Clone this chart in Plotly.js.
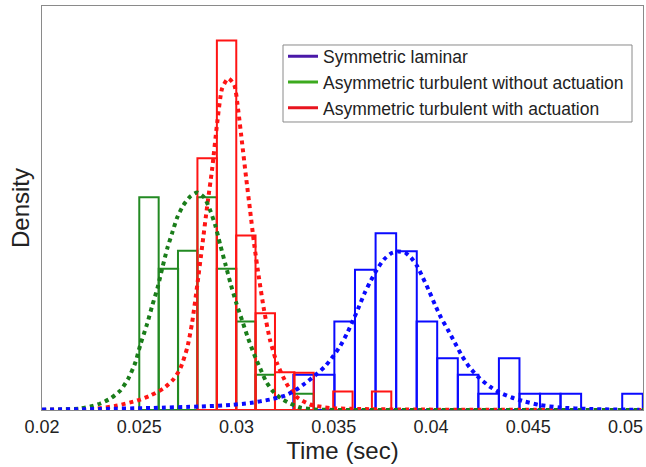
<!DOCTYPE html>
<html>
<head>
<meta charset="utf-8">
<script src="https://cdn.plot.ly/plotly-3.0.1.min.js"></script>
<style>html,body{margin:0;padding:0;background:#fff;}#chart{width:646px;height:467px;}</style>
</head>
<body>
<div id="chart"></div>
<script>
// Histogram bins (bin centres in sec, density heights)
const laminarBinX = [0.03345, 0.03451, 0.03556, 0.03662, 0.03768, 0.03874, 0.03979, 0.04085, 0.04191, 0.04296, 0.04402, 0.04508, 0.04613, 0.04719, 0.05036];
const laminarBinY = [35.2, 35.2, 88.5, 140.2, 176.8, 158.8, 88.5, 51.8, 35.2, 16.2, 51.8, 16.2, 16.2, 16.2, 16.2];
const noActBinX = [0.02550, 0.02650, 0.02749, 0.02849, 0.02949, 0.03048, 0.03148, 0.03347];
const noActBinY = [212.8, 141.2, 159.2, 212.8, 141.2, 88.5, 35.2, 16.2];
const actBinX = [0.02849, 0.02949, 0.03048, 0.03148, 0.03248, 0.03347, 0.03547, 0.03746];
const actBinY = [251.8, 369.5, 174.5, 96.8, 37.8, 37.2, 18.5, 18.5];
const laminarBinWidth = 0.001057;
const turbBinWidth = 0.000997;

// Fitted density curves
const laminarFitX = [0.0200, 0.0230, 0.02557, 0.02814, 0.02968, 0.03070, 0.03173, 0.03250, 0.03301, 0.03352, 0.03404, 0.03455, 0.03496, 0.03532, 0.03568, 0.03599, 0.03630, 0.03660, 0.03691, 0.03722, 0.03758, 0.03794, 0.03830, 0.03866, 0.03897, 0.03927, 0.03958, 0.03989, 0.04020, 0.04051, 0.04086, 0.04122, 0.04158, 0.04199, 0.04251, 0.04302, 0.04353, 0.04415, 0.04482, 0.04559, 0.04661, 0.04815, 0.05072];
const laminarFitY = [0.5, 1, 2, 3.5, 5, 7, 10.5, 14.5, 19.5, 26.5, 34.5, 43.5, 53.5, 63.5, 76.5, 89.5, 103.5, 117.5, 129.5, 140.5, 150.5, 156.5, 158.5, 157.5, 152.5, 144.5, 132.5, 119.5, 105.5, 92.5, 80.5, 67.5, 54.5, 42.5, 31.5, 23.5, 17.5, 12.5, 8.5, 5, 2.5, 1, 0.2];
const noActFitX = [0.0200, 0.02095, 0.02198, 0.02249, 0.02300, 0.02352, 0.02403, 0.02444, 0.02480, 0.02506, 0.02541, 0.02567, 0.02593, 0.02618, 0.02644, 0.02670, 0.02695, 0.02726, 0.02762, 0.02798, 0.02834, 0.02865, 0.02891, 0.02916, 0.02942, 0.02968, 0.02998, 0.03029, 0.03060, 0.03091, 0.03122, 0.03152, 0.03188, 0.03229, 0.03276, 0.03327, 0.03404, 0.0360, 0.0400, 0.0450, 0.0509];
const noActFitY = [0.1, 0.5, 1.5, 3.5, 6.5, 11.5, 19.5, 31.5, 47.5, 65.5, 86.5, 104.5, 121.5, 141.5, 161.5, 177.5, 192.5, 204.5, 213.5, 217.5, 212.5, 199.5, 184.5, 165.5, 146.5, 127.5, 107.5, 89.5, 71.5, 55.5, 41.5, 28.5, 18.5, 11.5, 6.5, 2.5, 0.5, 0, 0, 0, 0];
const actFitX = [0.0200, 0.02264, 0.02388, 0.02490, 0.02557, 0.02624, 0.02675, 0.02711, 0.02747, 0.02772, 0.02798, 0.02824, 0.02849, 0.02875, 0.02901, 0.02926, 0.02957, 0.02988, 0.03009, 0.03029, 0.03050, 0.03070, 0.03091, 0.03116, 0.03142, 0.03173, 0.03209, 0.03260, 0.03306, 0.03378, 0.03481, 0.03635, 0.0384, 0.04353, 0.0509];
const actFitY = [0.1, 1, 4.5, 9.5, 14.5, 21.5, 30.5, 41.5, 62.5, 87.5, 124.5, 164.5, 203.5, 241.5, 287.5, 321.5, 331.5, 325.5, 299.5, 266.5, 231.5, 199.5, 165.5, 131.5, 99.5, 69.5, 46.5, 25.5, 13.5, 5.5, 2, 1, 0.5, 0.2, 0];

const legendNames = ['Symmetric laminar', 'Asymmetric turbulent without actuation', 'Asymmetric turbulent with actuation'];
const xTickVals = [0.02, 0.025, 0.03, 0.035, 0.04, 0.045, 0.05];
const xTickText = ['0.02', '0.025', '0.03', '0.035', '0.04', '0.045', '0.05'];

const BLUE = '#0a0aff', GREEN = '#238a23', GREEN_DOT = '#1a7d1a', RED = '#ff1414';

function histTrace(x, y, w, color) {
  return {type: 'bar', x: x, y: y, width: w, showlegend: false, hoverinfo: 'skip',
    marker: {color: 'rgba(0,0,0,0)', line: {color: color, width: 2}}};
}
function fitTrace(x, y, color) {
  return {type: 'scatter', mode: 'lines', x: x, y: y, showlegend: false, hoverinfo: 'skip',
    line: {color: color, width: 4, dash: 'dot', shape: 'spline', smoothing: 0.6}};
}
function legendTrace(name, color) {
  return {type: 'scatter', mode: 'lines', x: [null], y: [null], name: name,
    line: {color: color, width: 3}};
}

const data = [
  histTrace(laminarBinX, laminarBinY, laminarBinWidth, BLUE),
  histTrace(noActBinX, noActBinY, turbBinWidth, GREEN),
  histTrace(actBinX, actBinY, turbBinWidth, RED),
  fitTrace(actFitX, actFitY, RED),
  fitTrace(noActFitX, noActFitY, GREEN_DOT),
  fitTrace(laminarFitX, laminarFitY, BLUE),
  legendTrace(legendNames[0], '#4a18a8'),
  legendTrace(legendNames[1], '#3caa1e'),
  legendTrace(legendNames[2], '#e8141e')
];

const layout = {
  width: 646, height: 467,
  margin: {l: 42, r: 3, t: 6, b: 57},
  paper_bgcolor: '#fff', plot_bgcolor: '#fff',
  barmode: 'overlay',
  font: {family: 'Liberation Sans, Arial, sans-serif', color: '#222'},
  xaxis: {
    range: [0.02, 0.0509], tickvals: xTickVals, ticktext: xTickText,
    showgrid: false, zeroline: false, ticks: '',
    showline: true, mirror: true, linecolor: '#8a8a8a', linewidth: 1,
    tickfont: {size: 18, color: '#222'},
    title: {text: 'Time (sec)', font: {size: 24, color: '#222'}, standoff: 4}
  },
  yaxis: {
    range: [0, 404], showticklabels: false, showgrid: false, zeroline: false, ticks: '',
    showline: true, mirror: true, linecolor: '#8a8a8a', linewidth: 1,
    title: {text: 'Density', font: {size: 24, color: '#222'}, standoff: 4}
  },
  shapes: [{
    type: 'rect', xref: 'paper', yref: 'paper', layer: 'above',
    x0: 0.401, x1: 0.9817, y0: 0.7129, y1: 0.9035,
    fillcolor: '#fff', line: {color: '#8a8a8a', width: 1}
  }],
  legend: {
    x: 0.401, y: 0.92, xanchor: 'left', yanchor: 'top',
    bgcolor: 'rgba(0,0,0,0)', borderwidth: 0,
    font: {size: 17.5, color: '#222'}, itemwidth: 30, tracegroupgap: 0
  },
  showlegend: true
};

Plotly.newPlot('chart', data, layout, {displayModeBar: false, staticPlot: true});
</script>
</body>
</html>
